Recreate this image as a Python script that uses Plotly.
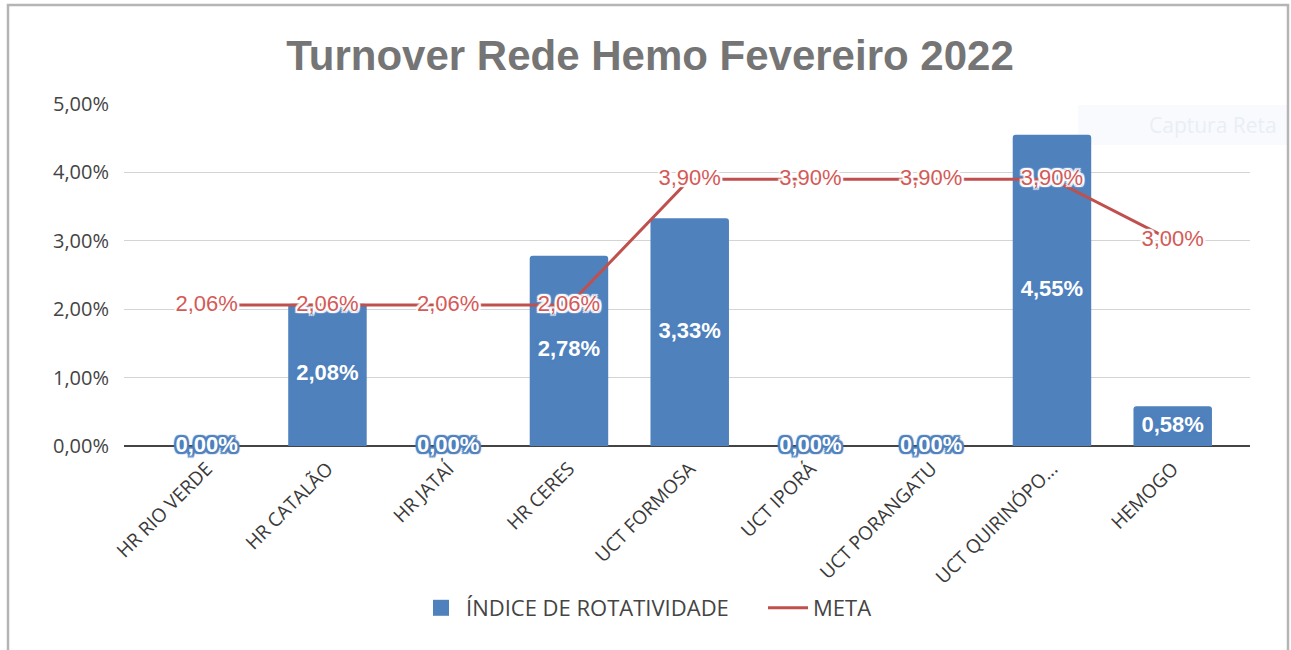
import plotly.graph_objects as go

# ---- data ----
categories = ["HR RIO VERDE", "HR CATALÃO", "HR JATAÍ", "HR CERES", "UCT FORMOSA",
              "UCT IPORÁ", "UCT PORANGATU", "UCT QUIRINÓPOLIS", "HEMOGO"]
tick_labels = ["HR RIO VERDE", "HR CATALÃO", "HR JATAÍ", "HR CERES", "UCT FORMOSA",
               "UCT IPORÁ", "UCT PORANGATU", "UCT QUIRINÓPO...", "HEMOGO"]
rotatividade = [0.00, 2.08, 0.00, 2.78, 3.33, 0.00, 0.00, 4.55, 0.58]
meta = [2.06, 2.06, 2.06, 2.06, 3.90, 3.90, 3.90, 3.90, 3.00]

BLUE = "#4f81bd"
RED_LINE = "#c0504d"
RED_TEXT = "#d45a58"

W, H = 1291, 650
L, R, T, B = 124, 41, 104, 204
PW, PH = W - L - R, H - T - B


def px_x(px):
    return (px - L) / PW


def px_y(py):
    return (H - B - py) / PH


def pct(v):
    return f"{v:.2f}%".replace(".", ",")


def halo(color, r=2):
    offs = [(-r, -r), (r, -r), (-r, r), (r, r), (0, r), (0, -r), (r, 0), (-r, 0)]
    return ", ".join(f"{dx}px {dy}px 1px {color}" for dx, dy in offs)


fig = go.Figure()

fig.add_trace(go.Bar(
    x=categories, y=rotatividade, name="ÍNDICE DE ROTATIVIDADE",
    marker=dict(color=BLUE, cornerradius=3, line=dict(width=0)),
    width=0.65, hoverinfo="skip", showlegend=False,
))

# legend key for the bars (larger square than the default bar swatch)
fig.add_trace(go.Scatter(
    x=[None], y=[None], mode="markers", name="ÍNDICE DE ROTATIVIDADE",
    marker=dict(symbol="square", size=16, color=BLUE),
))

fig.add_trace(go.Scatter(
    x=categories, y=meta, name="META", mode="lines+text",
    line=dict(color=RED_LINE, width=3),
    text=[pct(v) for v in meta], textposition="middle center",
    textfont=dict(family="Liberation Sans", size=22, color=RED_TEXT,
                  shadow=halo("white", 2)),
    hoverinfo="skip", cliponaxis=False,
))

# value labels centred in each bar (zero bars sit on the axis)
fig.add_trace(go.Scatter(
    x=categories, y=[v / 2 for v in rotatividade], mode="text",
    text=[pct(v) for v in rotatividade], textposition="middle center",
    textfont=dict(family="Liberation Sans", size=22, color="white", weight="bold",
                  shadow=halo(BLUE, 2)),
    showlegend=False, hoverinfo="skip", cliponaxis=False,
))

# outer frame and the faint capture overlay
shapes = [
    dict(type="rect", xref="paper", yref="paper",
         x0=px_x(1078), x1=px_x(1289), y0=px_y(145), y1=px_y(105),
         fillcolor="rgba(238,242,250,0.4)", line=dict(width=0), layer="below"),
    dict(type="rect", xref="paper", yref="paper",
         x0=px_x(8), x1=px_x(1288), y0=px_y(668), y1=px_y(5),
         fillcolor="rgba(0,0,0,0)", line=dict(color="#b5b5b5", width=2.5)),
]
annotations = [
    dict(xref="paper", yref="paper", x=px_x(1147), y=px_y(125),
         xanchor="left", yanchor="middle", showarrow=False, text="Captura Reta",
         font=dict(family="Open Sans", size=21, color="rgba(220,226,238,0.5)")),
]

fig.update_layout(
    width=W, height=H,
    margin=dict(l=L, r=R, t=T, b=B, autoexpand=False),
    paper_bgcolor="white", plot_bgcolor="rgba(0,0,0,0)",
    separators=",.",
    title=dict(text="Turnover Rede Hemo Fevereiro 2022",
               x=650 / W, xref="container", xanchor="center",
               y=1 - 55 / H, yref="container", yanchor="middle",
               font=dict(family="Liberation Sans", size=42, color="#757575", weight="bold")),
    xaxis=dict(
        type="category", range=[-0.685, 8.64],
        tickmode="array", tickvals=categories, ticktext=tick_labels,
        tickangle=-45, showgrid=False, showline=False, ticks="",
        ticklabelstandoff=7,
        tickfont=dict(family="Open Sans", size=19, color="#3a3a3a"),
        fixedrange=True,
    ),
    yaxis=dict(
        range=[0, 5], dtick=1, tickformat=".2f", ticksuffix="%",
        showgrid=True, gridcolor="#d4d4d4", gridwidth=1,
        zeroline=True, zerolinecolor="#444444", zerolinewidth=1.5,
        showline=False, ticks="", ticklabelstandoff=14,
        tickfont=dict(family="Open Sans", size=20, color="#444444"),
        fixedrange=True,
    ),
    legend=dict(orientation="h", x=px_x(416), xanchor="left",
                y=px_y(608), yanchor="middle", bgcolor="rgba(0,0,0,0)",
                font=dict(family="Open Sans", size=22, color="#444444"),
                itemwidth=40, entrywidth=292, entrywidthmode="pixels"),
    shapes=shapes, annotations=annotations,
)

fig.write_html("out.html")
